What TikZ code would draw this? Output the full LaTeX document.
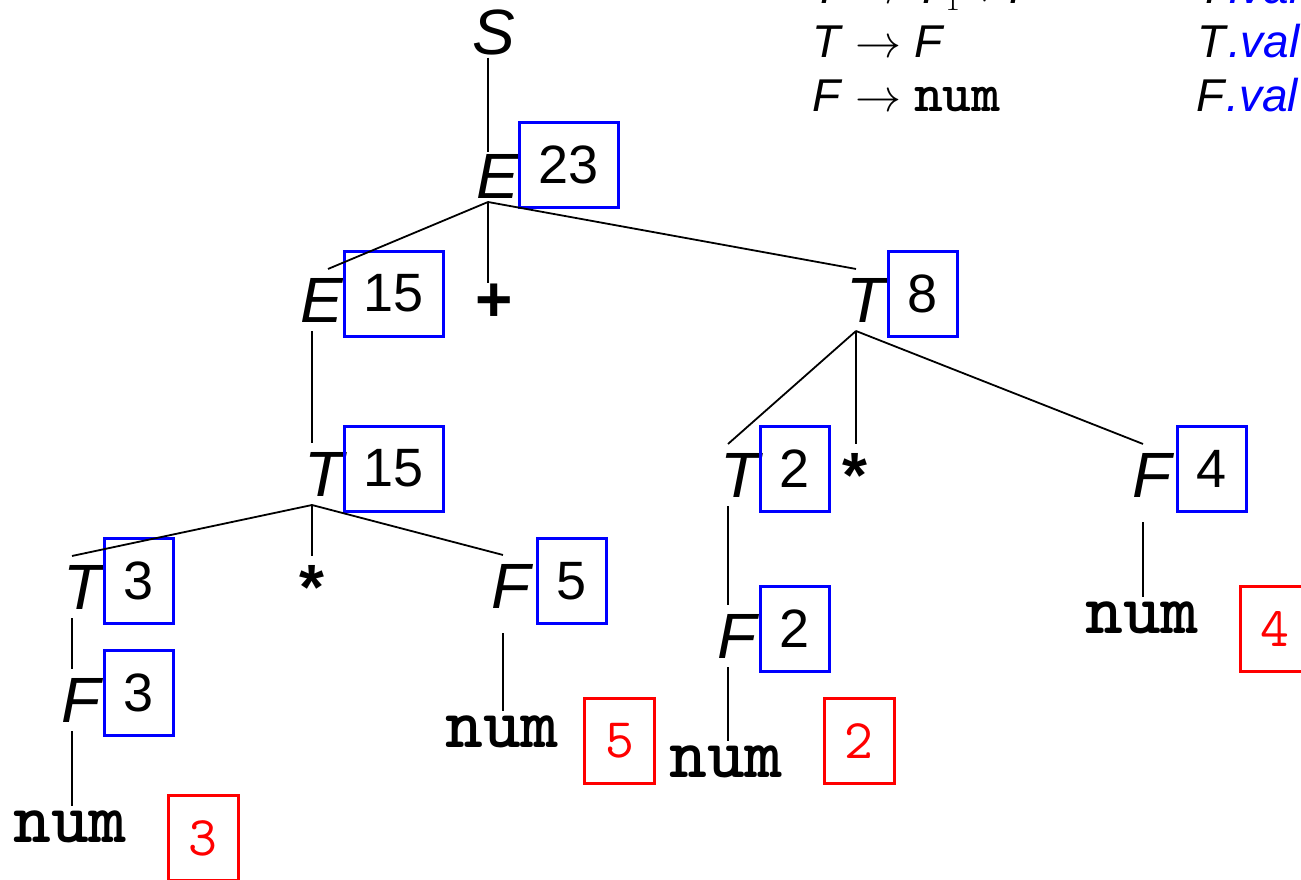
\documentclass[tikz,border=0pt]{standalone}
\usepackage{fix-cm}
\usepackage{fontspec}
\setmainfont{Liberation Sans}
\tikzset{
  sym/.style={font=\fontsize{64}{70}\selectfont\itshape, inner sep=0pt, outer sep=9pt, anchor=base,
              execute at begin node={\hspace*{#1}}},
  sym/.default=20pt,
  numtok/.style={font=\fontsize{72}{76}\selectfont\ttfamily\bfseries, inner sep=0pt, outer sep=4pt, anchor=base},
  optok/.style={font=\fontsize{64}{70}\selectfont\bfseries, inner sep=0pt, anchor=base},
  valbox/.style={draw=blue, line width=3pt, minimum width=#1, minimum height=85pt, inner sep=0pt,
                 font=\fontsize{54}{60}\selectfont},
  valbox/.default=69pt,
  lexbox/.style={draw=red, text=red, line width=3pt, minimum width=70pt, minimum height=85pt, inner sep=0pt,
                 font=\fontsize{56}{60}\selectfont\ttfamily},
  edge/.style={line width=1.8pt, black},
  rulet/.style={font=\fontsize{46}{50}\selectfont, inner sep=0pt, anchor=base west}
}
\begin{document}
\begin{tikzpicture}[x=1pt, y=-1pt]
\useasboundingbox (0,0) rectangle (1301,880);

% grammar fragment (top right)
\node[rulet] (g0) at (812,4) {\textit{T} $\rightarrow$ \textit{T}$_1$ $\ast$ \textit{F}};
\node[rulet] (g1) at (812,58) {\textit{T} $\rightarrow$ \textit{F}};
\node[rulet] (g2) at (812,112) {\textit{F} $\rightarrow$ {\fontsize{55}{60}\selectfont\ttfamily\bfseries num}};
\node[rulet] (s0) at (1197,4) {\textit{T}\textcolor{blue}{\textit{.val}}};
\node[rulet] (s1) at (1197,58) {\textit{T}\textcolor{blue}{\textit{.val}}};
\node[rulet] (s2) at (1196,112) {\textit{F}\textcolor{blue}{\textit{.val}}};

% tree symbols
\node[sym=12pt] (S) at (488,55) {S};
\node[sym] (e1) at (488,198) {E};
\node[sym] (e2) at (312,322) {E};
\node[optok] (plus) at (494,321) {+};
\node[sym] (t2) at (856,322) {T};
\node[sym=24pt] (t1) at (312,496) {T};
\node[sym=24pt] (t3) at (728,497) {T};
\node[optok] (star2) at (855,497) {*};
\node[sym=18pt] (f1) at (1143,497) {F};
\node[sym=22pt] (t4) at (72,609) {T};
\node[optok] (star1) at (312,609) {*};
\node[sym=16pt] (f3) at (503,608) {F};
\node[sym=18pt] (f4) at (728,658) {F};
\node[sym=18pt] (f2) at (72,722) {F};
\node[numtok] (n4) at (1142,633) {num};
\node[numtok] (n2) at (502,747) {num};
\node[numtok] (n3) at (726,777) {num};
\node[numtok] (n1) at (70,842) {num};

% value boxes
\node[valbox=99pt] (v23) at (569,165) {23};
\node[valbox=99pt] (v15a) at (394,293.5) {15};
\node[valbox] (v8) at (923,293.5) {8};
\node[valbox=99pt] (v15b) at (394,468.5) {15};
\node[valbox] (v2a) at (795,468.5) {2};
\node[valbox] (v4) at (1211.5,469) {4};
\node[valbox] (v3a) at (139,581) {3};
\node[valbox] (v5) at (571.5,581) {5};
\node[valbox] (v3b) at (139,693) {3};
\node[valbox] (v2b) at (795,629) {2};

% lexical values
\node[lexbox] (l3) at (203,838) {3};
\node[lexbox] (l5) at (619.5,741) {5};
\node[lexbox] (l2) at (859,741) {2};
\node[lexbox] (l4) at (1275,629) {4};

% edges
\draw[edge, shorten <=-7pt, shorten >=-7pt] (S) -- (e1);
\draw[edge] ([yshift=5pt]e1.south) -- ([xshift=16pt]e2.north);
\draw[edge] ([yshift=5pt]e1.south) -- (e1.south |- plus.north);
\draw[edge] ([yshift=5pt]e1.south) -- (t2.north);
\draw[edge] (e2.south) -- (e2.south |- t1.north);
\draw[edge] (t1.south) -- (t4.north);
\draw[edge] (t1.south) -- (t1.south |- t4.north);
\draw[edge] (t1.south) -- (f3.north);
\draw[edge] (t2.south) -- (t3.north);
\draw[edge] (t2.south) -- (t2.south |- t3.north);
\draw[edge] (t2.south) -- (f1.north);
\draw[edge] (t3.south) -- (t3.south |- f4.north);
\draw[edge] (t4.south) -- (t4.south |- f2.north);
\draw[edge] (f2.south) -- (f2.south |- n1.north);
\draw[edge, shorten <=16pt] (f3.south) -- (f3.south |- n2.north);
\draw[edge] (f4.south) -- (f4.south |- n3.north);
\draw[edge, shorten <=16pt] (f1.south) -- (f1.south |- n4.north);
\end{tikzpicture}
\end{document}
